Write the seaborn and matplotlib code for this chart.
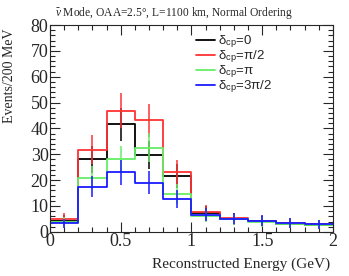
import numpy as np
import matplotlib
matplotlib.use('Agg')
import matplotlib.pyplot as plt
import seaborn as sns
from matplotlib.ticker import MultipleLocator

# bin edges, 200 MeV bins
edges = [0.0, 0.2, 0.4, 0.6, 0.8, 1.0, 1.2, 1.4, 1.6, 1.8, 2.0]
centers = [0.1, 0.3, 0.5, 0.7, 0.9, 1.1, 1.3, 1.5, 1.7, 1.9]

dcp_0 = [4.3, 28.0, 41.6, 29.7, 21.5, 7.3, 5.0, 4.1, 3.2, 2.8]
dcp_pi2 = [5.0, 31.8, 46.9, 43.1, 23.0, 7.6, 5.2, 4.2, 3.4, 2.9]
dcp_pi = [3.7, 21.0, 28.1, 32.6, 14.6, 6.2, 4.8, 3.9, 3.2, 2.8]
dcp_3pi2 = [3.3, 17.5, 23.0, 19.0, 12.8, 6.6, 5.1, 4.3, 3.5, 3.0]

labels = ['δ$_{\\rm cp}$=0', 'δ$_{\\rm cp}$=π/2', 'δ$_{\\rm cp}$=π', 'δ$_{\\rm cp}$=3π/2']
colors = ['black', '#ff3333', '#66ee66', '#1a1aff']

sns.set_style('ticks')
plt.rcParams['font.family'] = ['Liberation Serif', 'DejaVu Serif']
plt.rcParams['mathtext.fontset'] = 'custom'
plt.rcParams['mathtext.rm'] = 'Liberation Sans'
plt.rcParams['mathtext.it'] = 'Liberation Serif:italic'

fig = plt.figure(figsize=(3.49, 2.76), dpi=100)
ax = fig.add_axes([0.143, 0.16, 0.811, 0.749])

for vals, col, lab in zip([dcp_0, dcp_pi2, dcp_pi, dcp_3pi2], colors, labels):
    sns.histplot(x=centers, weights=vals, bins=edges, element='step', fill=False,
                 color=col, linewidth=1.3, ax=ax, label=lab)
    ax.errorbar(centers, vals, yerr=np.sqrt(vals), fmt='none', ecolor=col,
                elinewidth=1.1, capsize=0)

ax.set_xlim(0, 2)
ax.set_ylim(0, 80)
ax.xaxis.set_major_locator(MultipleLocator(0.5))
ax.xaxis.set_minor_locator(MultipleLocator(0.1))
ax.yaxis.set_major_locator(MultipleLocator(10))
ax.yaxis.set_minor_locator(MultipleLocator(2))
ax.xaxis.set_major_formatter(plt.FuncFormatter(lambda v, p: '%g' % v))
ax.tick_params(which='both', direction='in', top=True, right=True, labelsize=13, width=0.8)
ax.tick_params(which='major', length=7)
ax.tick_params(which='minor', length=3.5)
ax.tick_params(axis='x', pad=1)
ax.tick_params(axis='y', pad=1)
for s in ax.spines.values():
    s.set_linewidth(0.8)

ax.set_xlabel('Reconstructed Energy (GeV)', fontsize=11, loc='right')
ax.xaxis.set_label_coords(0.99, -0.125)
ax.set_ylabel('Events/200 MeV', fontsize=10, loc='top')
ax.yaxis.set_label_coords(-0.12, 0.985)
fig.text(0.497, 0.953, r'$\bar{\nu}$ Mode, OAA=2.5°, L=1100 km, Normal Ordering',
         fontsize=8.3, ha='center', va='center')

ax.legend(loc='upper left', bbox_to_anchor=(0.516, 0.96), frameon=False,
          prop={'family': 'Liberation Sans', 'size': 9.5}, handlelength=1.45,
          handletextpad=0.25, labelspacing=-0.12, borderaxespad=0, borderpad=0)

fig.savefig('out.png', dpi=100)
